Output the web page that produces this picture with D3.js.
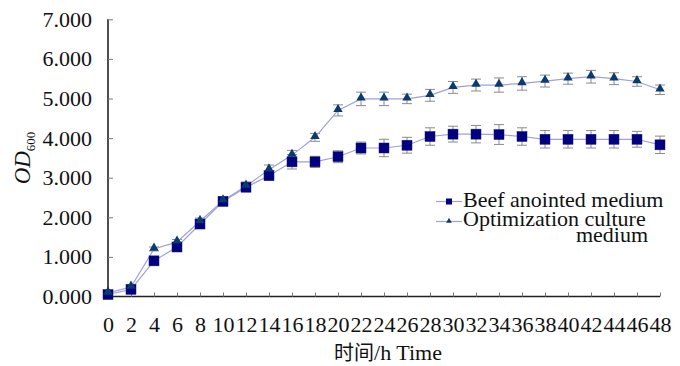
<!DOCTYPE html>
<html><head><meta charset="utf-8">
<script src="https://cdn.jsdelivr.net/npm/d3@7/dist/d3.min.js"></script>
</head>
<body style="margin:0;background:#fff">
<svg id="c" width="680" height="366" style="display:block"></svg>
<script>
const hours = [0,2,4,6,8,10,12,14,16,18,20,22,24,26,28,30,32,34,36,38,40,42,44,46,48];
const beef = [0.05,0.18,0.90,1.25,1.83,2.40,2.76,3.05,3.40,3.40,3.53,3.75,3.75,3.82,4.04,4.10,4.10,4.09,4.04,3.97,3.97,3.97,3.97,3.97,3.83];
const beefErr = [0.03,0.05,0.05,0.06,0.08,0.08,0.08,0.10,0.18,0.14,0.15,0.15,0.22,0.20,0.22,0.20,0.22,0.25,0.22,0.22,0.22,0.22,0.22,0.20,0.22];
const opt = [0.09,0.24,1.20,1.38,1.90,2.42,2.79,3.20,3.57,4.02,4.70,4.99,4.99,4.99,5.08,5.28,5.34,5.34,5.38,5.44,5.50,5.55,5.50,5.43,5.22];
const optErr = [0.03,0.05,0.05,0.06,0.08,0.10,0.10,0.12,0.12,0.10,0.14,0.17,0.17,0.12,0.15,0.15,0.15,0.18,0.17,0.15,0.14,0.16,0.15,0.12,0.12];
const yTicks = [0,1,2,3,4,5,6,7];
const seriesNames = ["Beef anointed medium","Optimization culture","medium"];
const xTitleCN = "时间", xTitleEN = "/h Time";

const SERIF = "'Liberation Serif'";
const svg = d3.select("#c").style("font-family",SERIF);
const x = d3.scaleLinear().domain([0,48]).range([108,660]);
const y = d3.scaleLinear().domain([0,7]).range([296.5,19.3]);

// axes
const yAxis = d3.axisLeft(y).tickValues(yTicks).tickFormat(d3.format(".3f")).tickSizeInner(-5).tickSizeOuter(0).tickPadding(16);
const gy = svg.append("g").attr("transform","translate(108,0)").call(yAxis);
const xAxis = d3.axisBottom(x).tickValues(hours).tickFormat(d3.format("d")).tickSizeInner(-4).tickSizeOuter(0).tickPadding(20);
const gx = svg.append("g").attr("transform","translate(0,296.5)").call(xAxis);
[gx,gy].forEach(g=>{
  g.attr("font-family",null).attr("font-size",null);
  g.select(".domain").attr("stroke","#222").attr("stroke-width",1.6);
  g.selectAll(".tick line").attr("stroke","#777").attr("stroke-width",1);
  g.selectAll(".tick text").style("font-family",SERIF).style("font-size","22px").attr("fill","#111");
});
gx.select(".domain").attr("d","M108,0H660");
gy.select(".domain").attr("d","M0,296.5V19.3");

const lineColor = "#a0a0d8";
const line = d3.line().x((d,i)=>x(hours[i])).y(d=>y(d));

function errorBars(vals, errs){
  const g = svg.append("g").attr("stroke","#8a8a8a").attr("stroke-width",1);
  vals.forEach((v,i)=>{
    const cx = x(hours[i]);
    g.append("line").attr("x1",cx).attr("x2",cx).attr("y1",y(v-errs[i])).attr("y2",y(v+errs[i]));
    g.append("line").attr("x1",cx-5).attr("x2",cx+5).attr("y1",y(v-errs[i])).attr("y2",y(v-errs[i]));
    g.append("line").attr("x1",cx-5).attr("x2",cx+5).attr("y1",y(v+errs[i])).attr("y2",y(v+errs[i]));
  });
}
errorBars(opt, optErr);
errorBars(beef, beefErr);

svg.append("path").datum(opt).attr("d",line).attr("fill","none").attr("stroke",lineColor).attr("stroke-width",1.2);
svg.append("path").datum(beef).attr("d",line).attr("fill","none").attr("stroke",lineColor).attr("stroke-width",1.2);

const sq = 10;
svg.append("g").selectAll("rect").data(beef).join("rect")
  .attr("x",(d,i)=>x(hours[i])-sq/2).attr("y",d=>y(d)-sq/2)
  .attr("width",sq).attr("height",sq).attr("fill","#000080").attr("stroke","#1a1a6e").attr("stroke-width",0.5);
const tri = d3.symbol().type(d3.symbolTriangle).size(38);
svg.append("g").selectAll("path").data(opt).join("path")
  .attr("transform",(d,i)=>`translate(${x(hours[i])},${y(d)-1})`)
  .attr("d",tri).attr("fill","#0a3a6e");

// legend
const lg = svg.append("g");
function ltext(xx,yy,t,anchor){
  return lg.append("text").attr("x",xx).attr("y",yy).attr("text-anchor",anchor||"start")
    .style("font-family",SERIF).style("font-size","22px").attr("fill","#111").text(t);
}
lg.append("line").attr("x1",436).attr("x2",462).attr("y1",201.5).attr("y2",201.5).attr("stroke",lineColor).attr("stroke-width",1.2);
lg.append("rect").attr("x",446).attr("y",198.5).attr("width",6).attr("height",6).attr("fill","#000080");
ltext(463,207,seriesNames[0]);
lg.append("line").attr("x1",436).attr("x2",462).attr("y1",221.5).attr("y2",221.5).attr("stroke",lineColor).attr("stroke-width",1.2);
lg.append("path").attr("transform","translate(449,221)").attr("d",d3.symbol().type(d3.symbolTriangle).size(14)).attr("fill","#0a3a6e");
ltext(463,226,seriesNames[1]);
ltext(612,242,seriesNames[2],"middle");

// y title
const yt = svg.append("text").attr("transform","translate(30,158) rotate(-90)").attr("text-anchor","middle")
  .style("font-family",SERIF).style("font-size","23px").attr("fill","#111");
yt.append("tspan").style("font-style","italic").text("OD");
yt.append("tspan").style("font-size","13px").attr("dy",5).text("600");

// x title
const xt = svg.append("text").attr("x",388).attr("y",360).attr("text-anchor","middle")
  .style("font-family",SERIF).style("font-size","22px").attr("fill","#111");
xt.append("tspan").style("font-family","'Noto Sans CJK SC'").style("font-size","20px").text(xTitleCN);
xt.append("tspan").text(xTitleEN);
</script></body></html>
